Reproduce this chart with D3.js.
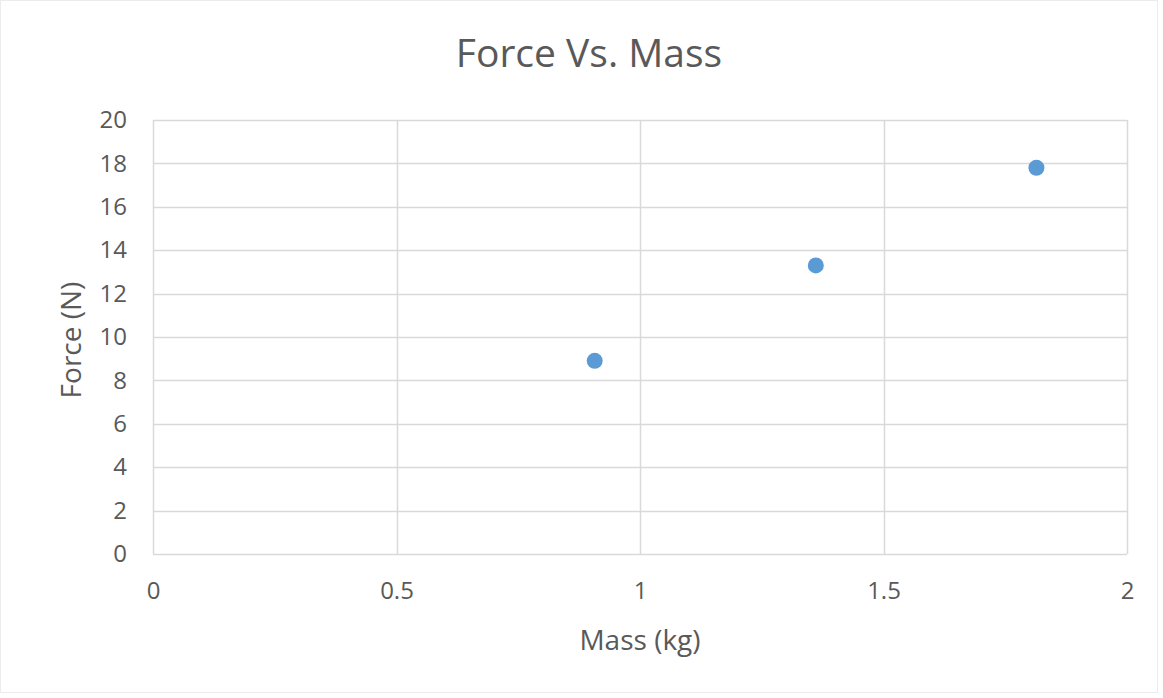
<!DOCTYPE html>
<html>
<head>
<meta charset="utf-8">
<script src="https://cdn.jsdelivr.net/npm/d3@7"></script>
<style>
  body { margin: 0; background: #fff; }
  text { font-family: "Open Sans", Lato, sans-serif; fill: #595959; }
</style>
</head>
<body>
<div id="chart"></div>
<script>
// data
var massKg = [0.907, 1.361, 1.814];
var forceN = [8.9, 13.3, 17.8];
var xTicks = [0, 0.5, 1, 1.5, 2];
var yTicks = [0, 2, 4, 6, 8, 10, 12, 14, 16, 18, 20];

var W = 1163, H = 698;
var margin = { top: 120, right: 36, bottom: 144, left: 153 },
    width = W - margin.left - margin.right,
    height = H - margin.top - margin.bottom;

var svg = d3.select("#chart")
    .append("svg")
    .attr("width", W)
    .attr("height", H);

// faint outer frame
svg.append("rect")
    .attr("x", 0.5).attr("y", 0.5)
    .attr("width", 1157).attr("height", 692)
    .attr("fill", "none")
    .attr("stroke", "#ececec");

var g = svg.append("g")
    .attr("transform", "translate(" + margin.left + "," + margin.top + ")");

var x = d3.scaleLinear().domain([0, 2]).range([0, width]);
var y = d3.scaleLinear().domain([0, 20]).range([height, 0]);

// gridlines
g.append("g")
    .selectAll("line.hgrid")
    .data(yTicks)
    .enter()
    .append("line")
    .attr("x1", 0).attr("x2", width)
    .attr("y1", function (d) { return Math.round(y(d)) + 0.5; })
    .attr("y2", function (d) { return Math.round(y(d)) + 0.5; })
    .attr("stroke", "#d9d9d9")
    .attr("stroke-width", 1.5);

g.append("g")
    .selectAll("line.vgrid")
    .data(xTicks)
    .enter()
    .append("line")
    .attr("y1", 0).attr("y2", height)
    .attr("x1", function (d) { return Math.round(x(d)) + 0.5; })
    .attr("x2", function (d) { return Math.round(x(d)) + 0.5; })
    .attr("stroke", "#d9d9d9")
    .attr("stroke-width", 1.5);

// axes (labels only, lines come from gridlines)
var yAxis = g.append("g")
    .call(d3.axisLeft(y).tickValues(yTicks).tickSize(0).tickPadding(26).tickFormat(d3.format("d")));
yAxis.select(".domain").remove();
yAxis.selectAll("text").style("font-size", "24px").attr("fill", "#595959");

var xAxis = g.append("g")
    .attr("transform", "translate(0," + height + ")")
    .call(d3.axisBottom(x).tickValues(xTicks).tickSize(0).tickPadding(28).tickFormat(function (d) { return String(d); }));
xAxis.select(".domain").remove();
xAxis.selectAll("text").style("font-size", "24px").attr("fill", "#595959");

// dots
g.append("g")
    .selectAll("circle")
    .data(massKg)
    .enter()
    .append("circle")
    .attr("cx", function (d) { return x(d); })
    .attr("cy", function (d, i) { return y(forceN[i]); })
    .attr("r", 8)
    .attr("fill", "#5b9bd5");

// title
svg.append("text")
    .attr("x", 589)
    .attr("y", 67)
    .attr("text-anchor", "middle")
    .style("font-size", "39px")
    .text("Force Vs. Mass");

// axis titles
svg.append("text")
    .attr("x", margin.left + width / 2)
    .attr("y", 650)
    .attr("text-anchor", "middle")
    .style("font-size", "28px")
    .text("Mass (kg)");

svg.append("text")
    .attr("transform", "translate(81," + (margin.top + height / 2 + 3) + ") rotate(-90)")
    .attr("text-anchor", "middle")
    .style("font-size", "28px")
    .text("Force (N)");
</script>
</body>
</html>
